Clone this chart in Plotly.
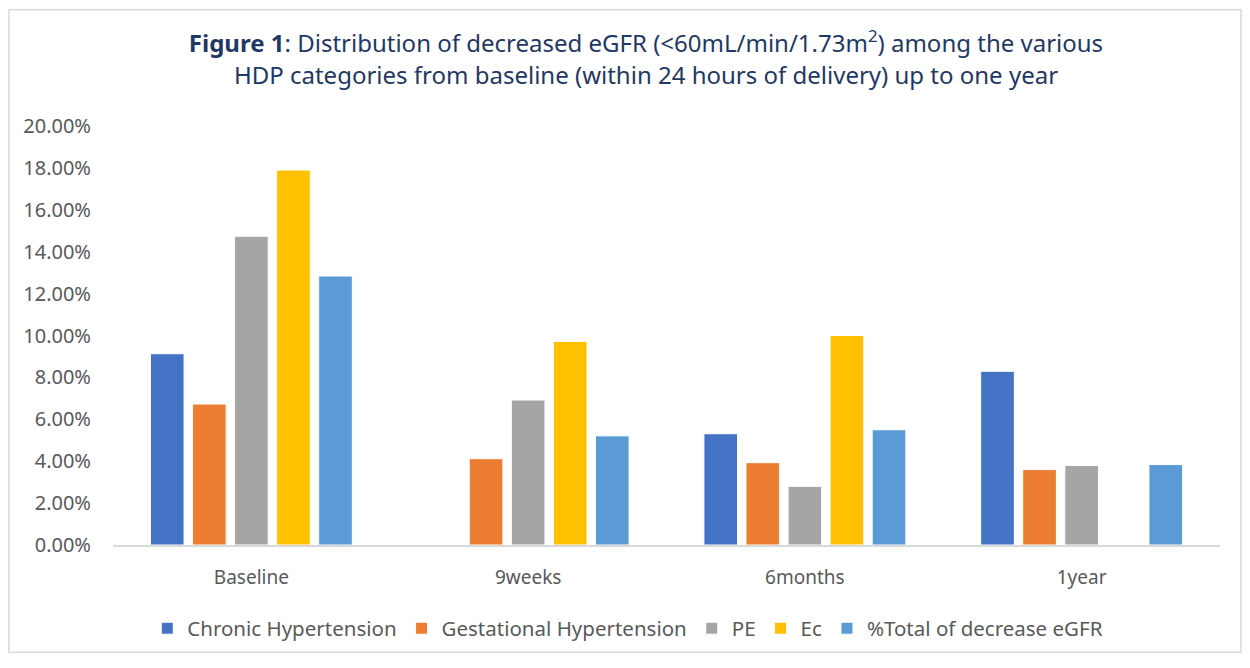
import plotly.graph_objects as go

categories = ["Baseline", "9weeks", "6months", "1year"]
series_names = ["Chronic Hypertension", "Gestational Hypertension", "PE", "Ec", "%Total of decrease eGFR"]
chronic = [0.0913, 0.0, 0.0531, 0.0829]
gestational = [0.0673, 0.0412, 0.0393, 0.0360]
pe = [0.1474, 0.0692, 0.0280, 0.0380]
ec = [0.1790, 0.0972, 0.1000, 0.0]
total = [0.1284, 0.0521, 0.0550, 0.0384]
colors = ["#4472C4", "#ED7D31", "#A5A5A5", "#FFC000", "#5B9BD5"]

font_family = "Noto Sans, sans-serif"

W, H = 1234, 652
L, R, T, B = 105, 22, 118, 112
pw, ph = W - L - R, H - T - B

fig = go.Figure()
for name, vals, col in zip(series_names, [chronic, gestational, pe, ec, total], colors):
    fig.add_trace(go.Bar(
        x=categories, y=vals, name=name,
        marker=dict(color=col, line=dict(color="white", width=1)),
    ))

fig.update_layout(
    width=W, height=H,
    paper_bgcolor="white", plot_bgcolor="white",
    barmode="group", bargap=0.24, bargroupgap=0.2,
    margin=dict(l=L, r=R, t=T, b=B),
    title=dict(
        text="<b>Figure 1</b>: Distribution of decreased eGFR (<60mL/min/1.73m<sup>2</sup>) among the various<br>HDP categories from baseline (within 24 hours of delivery) up to one year",
        x=0.517, xanchor="center", y=0.932, yanchor="middle",
        font=dict(family=font_family, size=24, color="#1F3864"),
    ),
    font=dict(family=font_family, color="#595959"),
    xaxis=dict(
        showgrid=False, showline=True, linecolor="#D9D9D9", linewidth=1.5,
        tickfont=dict(size=19, color="#595959"), ticks="", ticklabelstandoff=14,
    ),
    yaxis=dict(
        range=[0, 0.2], dtick=0.02, tickformat=".2%", showgrid=False,
        zeroline=False, showline=False, ticklabelstandoff=21,
        tickfont=dict(size=20, color="#595959"), ticks="",
    ),
    legend=dict(
        orientation="h", x=0.465, xanchor="center", y=-84 / ph, yanchor="middle",
        font=dict(size=20.5, color="#595959"), itemwidth=30,
        traceorder="normal",
    ),
    shapes=[dict(type="rect", xref="paper", yref="paper",
                 x0=-(L - 1) / pw, x1=1 + (R - 1) / pw,
                 y0=-(B - 4) / ph, y1=1 + (T - 1) / ph,
                 line=dict(color="#D9D9D9", width=1.5))],
)

fig.write_html("out.html")
